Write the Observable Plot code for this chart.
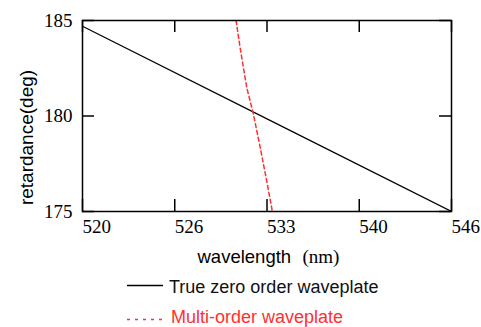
<!DOCTYPE html>
<html>
<head>
<meta charset="utf-8">
<script src="https://cdn.jsdelivr.net/npm/d3@7"></script>
<script src="https://cdn.jsdelivr.net/npm/@observablehq/plot@0.6"></script>
<style>
  html, body { margin: 0; padding: 0; background: #fff; }
  #wrap { position: relative; width: 481px; height: 327px; overflow: hidden; }
  #wrap svg.plot { position: absolute; left: 0; top: 0; }
  .leg { position: absolute; display: flex; align-items: center; font-family: "Liberation Sans", Arial, sans-serif; font-size: 18px; line-height: 20px; white-space: nowrap; }
</style>
</head>
<body>
<div id="wrap"></div>
<script>
// ---- data ----
const zeroWavelength = [520, 533, 546];
const zeroRetardance = [184.7, 179.85, 175.0];

const multiWavelength = [530.82, 531.1, 531.57, 532.04, 532.51, 532.98, 533.33, 533.37];
const multiRetardance = [185.0, 183.6, 181.5, 180.1, 178.4, 176.6, 175.2, 175.0];

const xTickValues = [520, 526.5, 533, 539.5, 546];
const xTickLabels = ["520", "526", "533", "540", "546"];
const yTickValues = [175, 180, 185];
const yTickLabels = ["175", "180", "185"];

const seriesNames = ["True zero order waveplate", "Multi-order waveplate"];
const xLabelWord = "wavelength";
const xLabelUnit = "(nm)";
const yLabel = "retardance(deg)";

// ---- layout ----
const W = 481, H = 272;
const mL = 82, mR = 30, mT = 20, mB = 61;
const plotW = W - mL - mR, plotH = H - mT - mB;
const tickLen = 12;
const red = "#ff3030";

const zeroData = zeroWavelength.map((x, i) => ({x, y: zeroRetardance[i]}));
const multiData = multiWavelength.map((x, i) => ({x, y: multiRetardance[i]}));
const serif = "'Liberation Serif', 'Times New Roman', serif";
const sans = "'Liberation Sans', Arial, sans-serif";

const chart = Plot.plot({
  width: W, height: H,
  marginLeft: mL, marginRight: mR, marginTop: mT, marginBottom: mB,
  style: {background: "white", overflow: "visible"},
  x: {domain: [520, 546]},
  y: {domain: [175, 185]},
  marks: [
    Plot.line(zeroData, {x: "x", y: "y", stroke: "black", strokeWidth: 1.2, clip: true}),
    Plot.line(multiData, {x: "x", y: "y", stroke: red, strokeWidth: 1.5, strokeDasharray: "4,3", clip: true}),
    // inward ticks
    Plot.tickX(xTickValues, {x: d => d, insetTop: plotH - tickLen, stroke: "black", strokeWidth: 1.5}),
    Plot.tickX(xTickValues, {x: d => d, insetBottom: plotH - tickLen, stroke: "black", strokeWidth: 1.5}),
    Plot.tickY(yTickValues, {y: d => d, insetRight: plotW - tickLen, stroke: "black", strokeWidth: 1.5}),
    Plot.tickY(yTickValues, {y: d => d, insetLeft: plotW - tickLen, stroke: "black", strokeWidth: 1.5}),
    Plot.frame({stroke: "black", strokeWidth: 1.5}),
    // tick labels
    Plot.axisX({ticks: xTickValues, tickFormat: (d) => xTickLabels[xTickValues.indexOf(d)], tickSize: 0, tickPadding: 8,
      textAnchor: "start", fontSize: 19, fontFamily: serif, fill: "black", label: null}),
    Plot.axisY({ticks: yTickValues, tickFormat: (d) => yTickLabels[yTickValues.indexOf(d)], tickSize: 0, tickPadding: 10,
      fontSize: 19, fontFamily: serif, fill: "black", label: null}),
    // x axis title
    Plot.text([xLabelWord], {text: d => d, frameAnchor: "bottom", textAnchor: "start", lineAnchor: "bottom", dx: -69.5, dy: 51, fontSize: 18.5, fontFamily: sans, fill: "black"}),
    Plot.text([xLabelUnit], {text: d => d, frameAnchor: "bottom", textAnchor: "start", lineAnchor: "bottom", dx: 35.5, dy: 51, fontSize: 19, fontFamily: serif, fill: "black"})
  ]
});
chart.classList.add("plot");
const wrap = document.getElementById("wrap");
wrap.appendChild(chart);

// y axis title (rotated), placed to the left of the frame
d3.select(chart).append("text")
  .attr("transform", `translate(${mL - 56},${mT + plotH / 2 + 22}) rotate(-90)`)
  .attr("text-anchor", "middle")
  .attr("dominant-baseline", "central")
  .attr("font-family", sans)
  .attr("font-size", 19)
  .attr("fill", "black")
  .text(yLabel);

// legend below the chart
function legendRow(name, top, left, sample, color) {
  const row = document.createElement("div");
  row.className = "leg";
  row.style.top = top + "px";
  row.style.left = left + "px";
  row.style.color = color;
  row.innerHTML = sample + `<span>${name}</span>`;
  wrap.appendChild(row);
}
legendRow(seriesNames[0], 277, 127,
  `<svg width="42" height="20" style="display:block"><line x1="0" x2="36" y1="8.5" y2="8.5" stroke="black" stroke-width="1.5"/></svg>`, "#111");
legendRow(seriesNames[1], 307, 127,
  `<svg width="44" height="20" style="display:block"><line x1="0" x2="40" y1="12.5" y2="12.5" stroke="${red}" stroke-width="1.5" stroke-dasharray="3,5"/></svg>`, red);
</script>
</body>
</html>
